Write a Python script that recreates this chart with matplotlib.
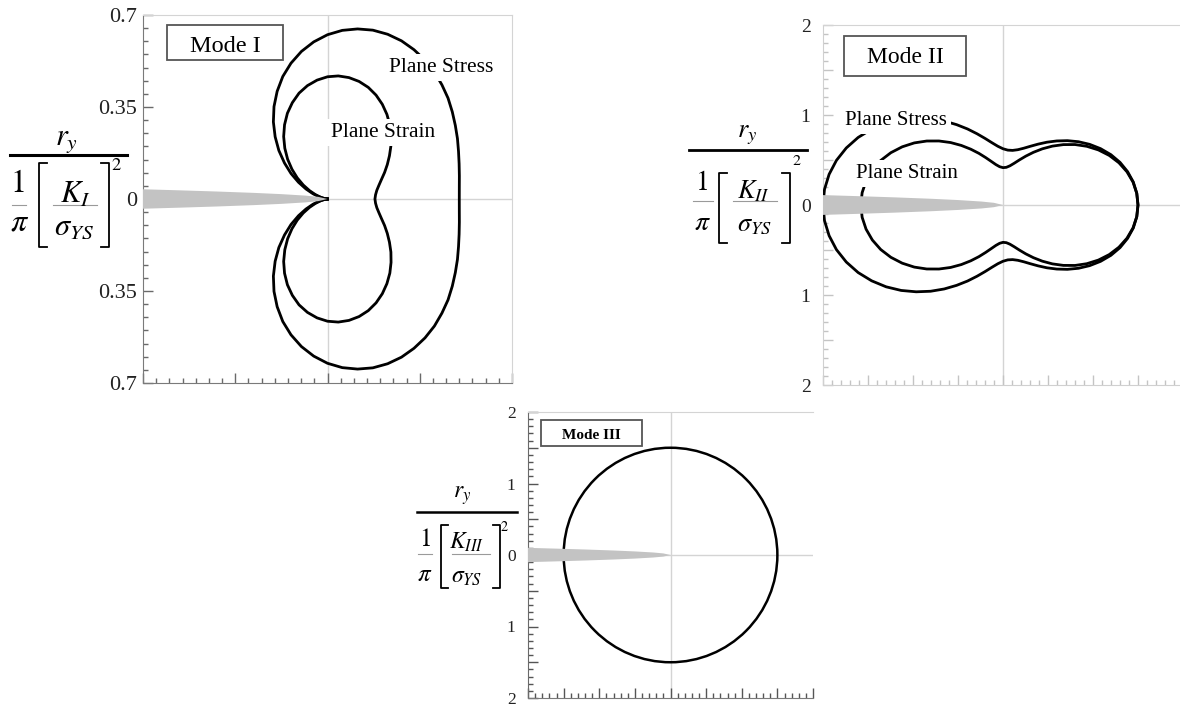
import numpy as np
import matplotlib.pyplot as plt
from matplotlib.ticker import MultipleLocator, FuncFormatter
from matplotlib.patches import Rectangle
from matplotlib.lines import Line2D

plt.rcParams['font.family'] = 'Liberation Serif'
plt.rcParams['mathtext.fontset'] = 'stix'

# angoli polari (gradi) del semipiano superiore, la meta' inferiore e' simmetrica
theta_deg = [0, 5, 10, 15, 20, 25, 30, 35, 40, 45, 50, 55, 60, 65, 70, 75, 80, 85, 90,
             95, 100, 105, 110, 115, 120, 125, 130, 135, 140, 145, 150, 155, 160, 165, 170, 175, 180]

# raggio adimensionale della zona plastica  r_y / (1/pi (K/sigma_YS)^2)
modo1_tensione = [0.500, 0.502, 0.508, 0.517, 0.529, 0.544, 0.560, 0.578, 0.597, 0.614,
                  0.631, 0.645, 0.656, 0.664, 0.667, 0.665, 0.657, 0.644, 0.625,
                  0.600, 0.570, 0.535, 0.496, 0.452, 0.406, 0.358, 0.309, 0.261,
                  0.213, 0.169, 0.127, 0.090, 0.059, 0.034, 0.015, 0.004, 0.0]
modo1_deformazione = [0.180, 0.183, 0.190, 0.202, 0.218, 0.239, 0.262, 0.287, 0.314, 0.341,
                      0.368, 0.393, 0.416, 0.436, 0.452, 0.463, 0.469, 0.470, 0.465,
                      0.454, 0.438, 0.417, 0.390, 0.360, 0.326, 0.290, 0.252, 0.214,
                      0.176, 0.140, 0.106, 0.075, 0.049, 0.028, 0.013, 0.003, 0.0]
modo2_tensione = [1.500, 1.492, 1.470, 1.433, 1.384, 1.323, 1.252, 1.175, 1.094, 1.011,
                  0.929, 0.852, 0.781, 0.720, 0.671, 0.636, 0.616, 0.612, 0.625,
                  0.655, 0.702, 0.765, 0.842, 0.932, 1.031, 1.139, 1.251, 1.364,
                  1.477, 1.585, 1.685, 1.776, 1.853, 1.916, 1.962, 1.991, 2.000]
modo2_deformazione = [1.500, 1.492, 1.467, 1.426, 1.371, 1.303, 1.224, 1.137, 1.045, 0.949,
                      0.854, 0.762, 0.676, 0.599, 0.533, 0.480, 0.442, 0.420, 0.415,
                      0.427, 0.456, 0.501, 0.560, 0.633, 0.716, 0.808, 0.906, 1.006,
                      1.106, 1.203, 1.293, 1.375, 1.446, 1.503, 1.545, 1.571, 1.580]
modo3_raggio = 1.5

# profilo della cricca: distanza dall'apice e apertura, in frazione di lunghezza / apertura max
cricca_pos = [1.0, 0.8, 0.6, 0.4, 0.25, 0.12, 0.05, 0.0]
cricca_apertura = [1.0, 0.89, 0.77, 0.63, 0.5, 0.35, 0.22, 0.0]

W, H = 1180, 706
fig = plt.figure(figsize=(W / 100, H / 100), dpi=100)


def box_px(left, top, right, bottom):  # posizione in pixel -> frazione della figura
    return [left / W, 1 - bottom / H, (right - left) / W, (bottom - top) / H]


def testo_px(x, y, s, fs, **kw):
    fig.text(x / W, 1 - y / H, s, fontsize=fs, ha='center', va='center', **kw)


def linea_px(xs, ys, **kw):
    fig.add_artist(Line2D([x / W for x in xs], [1 - y / H for y in ys],
                          transform=fig.transFigure, **kw))


def chiudi(r):  # contorno completo da -180 a 180 gradi
    th = np.radians(theta_deg)
    th_full = np.concatenate([-th[::-1], th[1:]])
    r_full = np.concatenate([np.array(r)[::-1], np.array(r)[1:]])
    return r_full * np.cos(th_full), r_full * np.sin(th_full)


def disegna_cricca(ax, lunghezza, apertura):
    xs = -lunghezza * np.array(cricca_pos)
    ys = apertura * np.array(cricca_apertura)
    ax.fill(np.concatenate([xs, xs[::-1]]), np.concatenate([ys, -ys[::-1]]),
            facecolor='#c3c3c3', edgecolor='none', zorder=4)


def etichetta_intera(v, pos):
    if abs(v - round(v)) < 1e-6:
        return '%d' % abs(round(v))
    return ''


def prepara_assi(ax, lim, major, minor, col_sx, col_basso, col_tick, fs, pad, fmt):
    ax.set_xlim(-lim, lim)
    ax.set_ylim(-lim, lim)
    ax.xaxis.set_major_locator(MultipleLocator(major))
    ax.xaxis.set_minor_locator(MultipleLocator(minor))
    ax.yaxis.set_major_locator(MultipleLocator(major))
    ax.yaxis.set_minor_locator(MultipleLocator(minor))
    ax.yaxis.set_major_formatter(FuncFormatter(fmt))
    ax.tick_params(which='both', direction='in', top=False, right=False,
                   labelbottom=False, colors=col_tick, labelcolor='#222222',
                   labelsize=fs, pad=pad)
    ax.tick_params(which='major', length=7, width=1)
    ax.tick_params(which='minor', length=3.5, width=1)
    ax.spines['left'].set_color(col_sx)
    ax.spines['bottom'].set_color(col_basso)
    ax.spines['top'].set_color('#d4d4d4')
    ax.spines['right'].set_color('#d4d4d4')
    ax.axhline(0, color='#d4d4d4', lw=1, zorder=1)
    ax.axvline(0, color='#d4d4d4', lw=1, zorder=1)


def riquadro(left, top, right, bottom, base, testo, fs, peso='normal'):
    fig.add_artist(Rectangle((left / W, 1 - bottom / H), (right - left) / W, (bottom - top) / H,
                             transform=fig.transFigure, facecolor='white',
                             edgecolor='#555555', lw=1.3, zorder=6))
    fig.text((left + right) / 2 / W, 1 - base / H, testo, ha='center', va='baseline',
             fontsize=fs, fontweight=peso, zorder=7)


def frazione(p):
    # r_y su (1/pi)[K/sigma_YS]^2 composta pezzo per pezzo
    linea_px(p['barra'][:2], [p['barra'][2]] * 2, color='black', lw=p['lw'])
    testo_px(*p['num'], r'$r_y$', p['fs'])
    testo_px(*p['uno'], r'$1$', p['fs'] + 1)
    testo_px(*p['pi'], r'$\pi$', p['fs'] + 1)
    linea_px(p['barra1'][:2], [p['barra1'][2]] * 2, color='#9a9a9a', lw=0.8)
    testo_px(*p['k'], r'$K_{%s}$' % p['pedice'], p['fs'])
    testo_px(*p['sigma'], r'$\sigma_{YS}$', p['fs'])
    linea_px(p['barra2'][:2], [p['barra2'][2]] * 2, color='#9a9a9a', lw=0.8)
    xl, xr, yt, yb = p['quadre']
    d = p['dente']
    linea_px([xl + d, xl, xl, xl + d], [yt, yt, yb, yb], color='black', lw=1.3)
    linea_px([xr - d, xr, xr, xr - d], [yt, yt, yb, yb], color='black', lw=1.3)
    testo_px(*p['due'], r'$2$', p['fs'] * 0.6)


sfondo = dict(facecolor='white', edgecolor='none', pad=3)

# Modo I
ax1 = fig.add_axes(box_px(143, 15, 512, 383))
prepara_assi(ax1, 0.7, 0.35, 0.05, '#7a7a7a', '#7a7a7a', '#6a6a6a', 16, 4,
             lambda v, p: '%g' % abs(round(v, 3)))
for r in (modo1_tensione, modo1_deformazione):
    x, y = chiudi(r)
    ax1.plot(x, y, color='black', lw=2, zorder=3)
disegna_cricca(ax1, 0.7, 0.037)
ax1.text(0.43, 0.483, 'Plane Stress', ha='center', va='baseline', fontsize=15.5, bbox=sfondo, zorder=5)
ax1.text(0.209, 0.236, 'Plane Strain', ha='center', va='baseline', fontsize=15.5, bbox=sfondo, zorder=5)

# Modo II
ax2 = fig.add_axes(box_px(823, 25, 1183, 385))
prepara_assi(ax2, 2, 0.5, 0.1, '#d0d0d0', '#d0d0d0', '#c4c4c4', 14, 9, etichetta_intera)
for r in (modo2_tensione, modo2_deformazione):
    x, y = chiudi(r)
    ax2.plot(x, y, color='black', lw=2, zorder=3)
disegna_cricca(ax2, 2.0, 0.11)
ax2.text(-1.19, 0.889, 'Plane Stress', ha='center', va='baseline', fontsize=15, bbox=sfondo, zorder=5)
ax2.text(-1.067, 0.30, 'Plane Strain', ha='center', va='baseline', fontsize=15, bbox=sfondo, zorder=5)

# Modo III
ax3 = fig.add_axes(box_px(528, 412, 813, 698))
prepara_assi(ax3, 2, 0.5, 0.1, '#6a6a6a', '#7a7a7a', '#555555', 12.5, 9, etichetta_intera)
ax3.spines['right'].set_visible(False)
ax3.add_patch(plt.Circle((0, 0), modo3_raggio, fill=False, color='black', lw=1.8, zorder=3))
disegna_cricca(ax3, 2.0, 0.1)

riquadro(167, 25, 283, 60, 52, 'Mode I', 17.5)
riquadro(844, 36, 966, 76, 63, 'Mode II', 17)
riquadro(541, 420, 642, 446, 439, 'Mode III', 11, 'bold')

frazione(dict(barra=(10, 127, 155), lw=2.2, num=(66, 141), fs=22, pedice='I',
              uno=(17, 185), pi=(20, 223), barra1=(12, 26, 205),
              k=(75, 195), sigma=(74, 227), barra2=(53, 97, 205),
              quadre=(39, 109, 163, 247), dente=8, due=(116, 166)))
frazione(dict(barra=(689, 807, 150), lw=2.0, num=(747, 135), fs=19, pedice='II',
              uno=(701, 183), pi=(702, 223), barra1=(693, 713, 201),
              k=(753, 191), sigma=(754, 226), barra2=(733, 777, 201),
              quadre=(719, 790, 173, 243), dente=8, due=(797, 161)))
frazione(dict(barra=(417, 517, 512), lw=1.8, num=(462, 496), fs=17, pedice='III',
              uno=(425, 540), pi=(425, 575), barra1=(418, 432, 554),
              k=(467, 542), sigma=(467, 577), barra2=(452, 490, 554),
              quadre=(441, 500, 525, 588), dente=7, due=(504, 527)))

fig.savefig('out.png', dpi=100)
